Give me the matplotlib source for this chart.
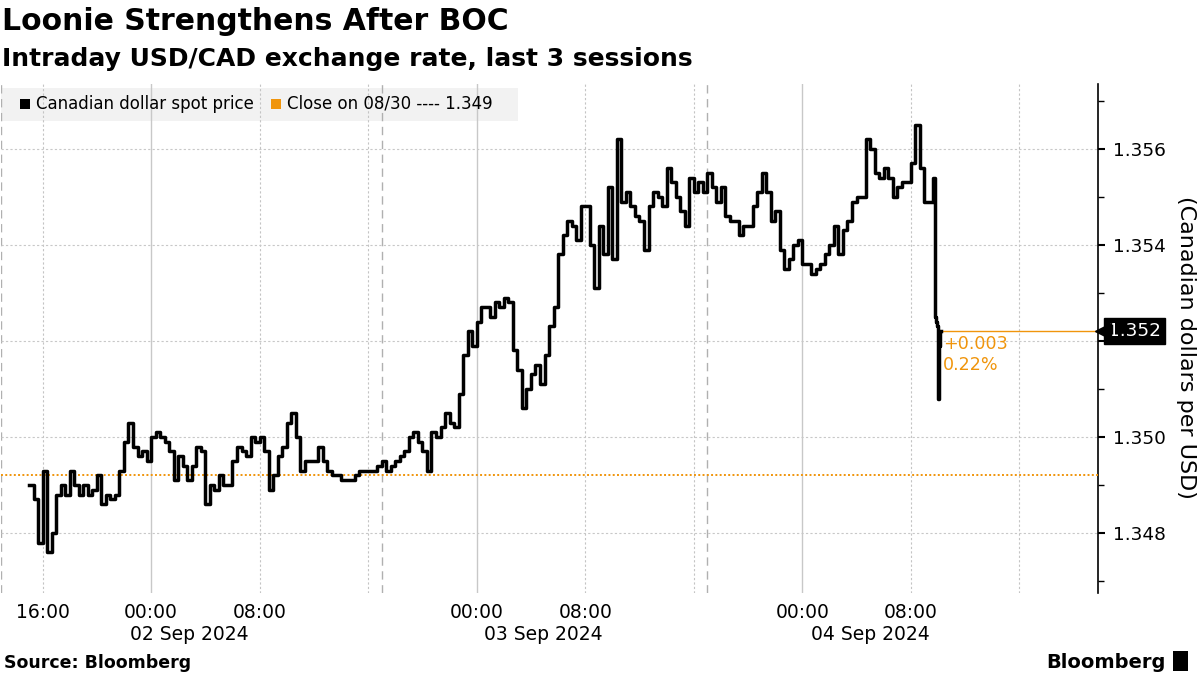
import matplotlib
matplotlib.use('Agg')
import matplotlib.pyplot as plt
import matplotlib.dates as mdates
import matplotlib.transforms as mtransforms
from matplotlib.patches import Rectangle
from matplotlib.ticker import MultipleLocator, FuncFormatter
import numpy as np
import pandas as pd

# USD/CAD spot, read every 20 minutes starting Sun 01 Sep 15:00
spot = [
    1.3490, 1.3487, 1.3478, 1.3493, 1.3476, 1.3480, 1.3488, 1.3490, 1.3488, 1.3493,
    1.3490, 1.3488, 1.3490, 1.3488, 1.3489, 1.3492, 1.3486, 1.3488, 1.3487, 1.3488,
    1.3493, 1.3499, 1.3503, 1.3498, 1.3496, 1.3497, 1.3495, 1.3500, 1.3501, 1.3500,
    1.3499, 1.3497, 1.3491, 1.3496, 1.3494, 1.3491, 1.3494, 1.3498, 1.3497, 1.3486,
    1.3490, 1.3489, 1.3492, 1.3490, 1.3490, 1.3495, 1.3498, 1.3497, 1.3496, 1.3500,
    1.3499, 1.3500, 1.3497, 1.3489, 1.3492, 1.3496, 1.3498, 1.3503, 1.3505, 1.3500,
    1.3493, 1.3495, 1.3495, 1.3495, 1.3498, 1.3495, 1.3493, 1.3492, 1.3492, 1.3491,
    1.3491, 1.3491, 1.3492, 1.3493, 1.3493, 1.3493, 1.3493, 1.3494, 1.3495, 1.3493,
    1.3494, 1.3495, 1.3496, 1.3497, 1.3500, 1.3501, 1.3499, 1.3497, 1.3493, 1.3501,
    1.3500, 1.3502, 1.3505, 1.3503, 1.3502, 1.3509, 1.3517, 1.3522, 1.3519, 1.3524,
    1.3527, 1.3527, 1.3525, 1.3528, 1.3527, 1.3529, 1.3528, 1.3518, 1.3514, 1.3506,
    1.3510, 1.3513, 1.3515, 1.3511, 1.3517, 1.3523, 1.3527, 1.3538, 1.3542, 1.3545,
    1.3544, 1.3541, 1.3548, 1.3548, 1.3540, 1.3531, 1.3544, 1.3538, 1.3552, 1.3537,
    1.3562, 1.3549, 1.3551, 1.3548, 1.3546, 1.3545, 1.3539, 1.3548, 1.3551, 1.3550,
    1.3548, 1.3556, 1.3553, 1.3550, 1.3547, 1.3544, 1.3554, 1.3551, 1.3553, 1.3551,
    1.3555, 1.3552, 1.3549, 1.3552, 1.3546, 1.3545, 1.3545, 1.3542, 1.3544, 1.3544,
    1.3548, 1.3551, 1.3555, 1.3551, 1.3545, 1.3547, 1.3539, 1.3535, 1.3537, 1.3540,
    1.3541, 1.3536, 1.3536, 1.3534, 1.3535, 1.3536, 1.3538, 1.3540, 1.3544, 1.3538,
    1.3543, 1.3545, 1.3549, 1.3550, 1.3550, 1.3562, 1.3560, 1.3555, 1.3554, 1.3556,
    1.3554, 1.3550, 1.3552, 1.3553, 1.3553, 1.3557, 1.3565, 1.3556, 1.3549, 1.3549,
    1.3554,
]
# after the BOC decision: 5-minute readings from Wed 04 Sep 09:45
after_boc = [1.3525, 1.3524, 1.3523, 1.3508, 1.3519, 1.3522, 1.3522]
close_0830 = 1.3492

hour_ticks = ['2024-09-01 16:00', '2024-09-02 00:00', '2024-09-02 08:00',
              '2024-09-03 00:00', '2024-09-03 08:00',
              '2024-09-04 00:00', '2024-09-04 08:00']
hour_labels = ['16:00', '00:00', '08:00', '00:00', '08:00', '00:00', '08:00']
day_labels = ['02 Sep 2024', '03 Sep 2024', '04 Sep 2024']
day_pos = ['2024-09-02 02:50', '2024-09-03 04:55', '2024-09-04 05:00']
midnights = ['2024-09-02 00:00', '2024-09-03 00:00', '2024-09-04 00:00']
dotted_v = ['2024-09-01 16:00', '2024-09-02 08:00', '2024-09-02 16:00',
            '2024-09-03 08:00', '2024-09-03 16:00', '2024-09-04 08:00',
            '2024-09-04 16:00']
sessions = ['2024-09-02 17:00', '2024-09-03 17:00']

ORANGE = '#f0950c'


def dn(s):
    return mdates.date2num(pd.Timestamp(s).to_pydatetime())


t1 = pd.date_range('2024-09-01 15:00', periods=len(spot), freq='20min')
t2 = pd.date_range('2024-09-04 09:45', periods=len(after_boc), freq='5min')
x = mdates.date2num(t1.append(t2).to_pydatetime())
y = np.array(spot + after_boc)
last = y[-1]
xmin, xmax = dn('2024-09-01 12:57'), dn('2024-09-04 21:48')

fig = plt.figure(figsize=(12, 6.75), dpi=100)
ax = fig.add_axes([0.001, 0.1215, 0.914, 0.7541])

# grid
for m in midnights:
    ax.axvline(dn(m), color='#c8c8c8', lw=1, zorder=1)
for d in dotted_v:
    ax.axvline(dn(d), color='#c4c4c4', lw=0.8, ls=(0, (2, 2)), zorder=1)
for s in sessions + ['2024-09-01 12:58']:
    ax.axvline(dn(s), color='#b0b0b0', lw=1, ls=(0, (6, 4)), zorder=1)
for v in [1.348, 1.350, 1.352, 1.354, 1.356]:
    ax.axhline(v, color='#c8c8c8', lw=0.8, ls=(0, (2, 2)), zorder=1)

# legend background
ax.add_patch(Rectangle((0, 0.9273), 0.471, 0.0648, transform=ax.transAxes,
                       fc='#f2f2f2', ec='none', zorder=0.5))

ax.axhline(close_0830, color=ORANGE, lw=1.4, ls=(0, (1, 1.2)), zorder=3)
ax.plot(x, y, color='black', lw=2.5, drawstyle='steps-post', zorder=4)
ax.plot([x[-1], xmax], [last, last], color=ORANGE, lw=1, zorder=3)

chg = last - close_0830
pct = chg / close_0830 * 100
ax.annotate(f'{chg:+.3f}\n{pct:.2f}%', xy=(x[-1], last), xytext=(1, -3),
            textcoords='offset points', ha='left', va='top', color=ORANGE,
            fontsize=12.6, linespacing=1.15, zorder=5)

ax.set_xlim(xmin, xmax)
ax.set_ylim(1.34675, 1.35735)

# y axis on the right
ax.yaxis.tick_right()
ax.yaxis.set_major_locator(MultipleLocator(0.002))
ax.yaxis.set_minor_locator(MultipleLocator(0.001))
ax.yaxis.set_major_formatter(FuncFormatter(
    lambda v, _: '' if abs(v - round(last, 3)) < 1e-6 else f'{v:.3f}'))
ax.tick_params(axis='y', which='major', length=5, width=1.5, pad=6, labelsize=13.3)
ax.tick_params(axis='y', which='minor', length=4, width=1)
fig.text(1186 / 1200, 1 - 347 / 675, '(Canadian dollars per USD)', rotation=270,
         fontsize=16, ha='center', va='center')

# last price tag
tag_tr = mtransforms.offset_copy(ax.get_yaxis_transform(), fig=fig, x=5, y=0,
                                 units='dots')
ax.plot([1], [last], marker='<', ms=12, color='black', transform=tag_tr,
        clip_on=False, zorder=6)
ax.annotate(f'{last:.3f}', xy=(1, last), xycoords=('axes fraction', 'data'),
            xytext=(7.5, 0), textcoords='offset points', ha='left', va='center',
            color='white', fontsize=13.3, annotation_clip=False,
            bbox=dict(boxstyle='square,pad=0.22', fc='black', ec='black'))

# x axis
ax.set_xticks([dn(t) for t in hour_ticks])
ax.set_xticklabels(hour_labels)
ax.tick_params(axis='x', length=0, pad=7, labelsize=13.5)
trans = mtransforms.blended_transform_factory(ax.transData, ax.transAxes)
for lab, p in zip(day_labels, day_pos):
    ax.text(dn(p), -0.081, lab, transform=trans, ha='center', va='center',
            fontsize=13.5)

for side in ['left', 'top', 'bottom']:
    ax.spines[side].set_visible(False)
ax.spines['right'].set_linewidth(1.2)

# titles
fig.text(0.002, 1 - 30 / 675, 'Loonie Strengthens After BOC', fontsize=21.5,
         fontweight='bold', va='baseline')
fig.text(0.002, 1 - 66 / 675, 'Intraday USD/CAD exchange rate, last 3 sessions',
         fontsize=18, fontweight='bold', va='baseline')

# legend
fig.patches.append(Rectangle((20 / 1200, 1 - 109 / 675), 10 / 1200, 10 / 675,
                             transform=fig.transFigure, fc='black', ec='none'))
fig.text(36 / 1200, 1 - 109 / 675, 'Canadian dollar spot price', fontsize=12,
         va='baseline')
fig.patches.append(Rectangle((271 / 1200, 1 - 109 / 675), 10 / 1200, 10 / 675,
                             transform=fig.transFigure, fc=ORANGE, ec='none'))
fig.text(287 / 1200, 1 - 109 / 675, f'Close on 08/30 ---- {close_0830:.3f}',
         fontsize=12, va='baseline')

# footer
fig.text(0.003, 1 - 668 / 675, 'Source: Bloomberg', fontsize=12.5,
         fontweight='bold', va='baseline')
fig.text(1166 / 1200, 1 - 668 / 675, 'Bloomberg', fontsize=14, fontweight='bold',
         va='baseline', ha='right')
fig.patches.append(Rectangle((1173 / 1200, 1 - 671 / 675), 15 / 1200, 20 / 675,
                             transform=fig.transFigure, fc='black', ec='none'))

fig.savefig('out.png', dpi=100)
